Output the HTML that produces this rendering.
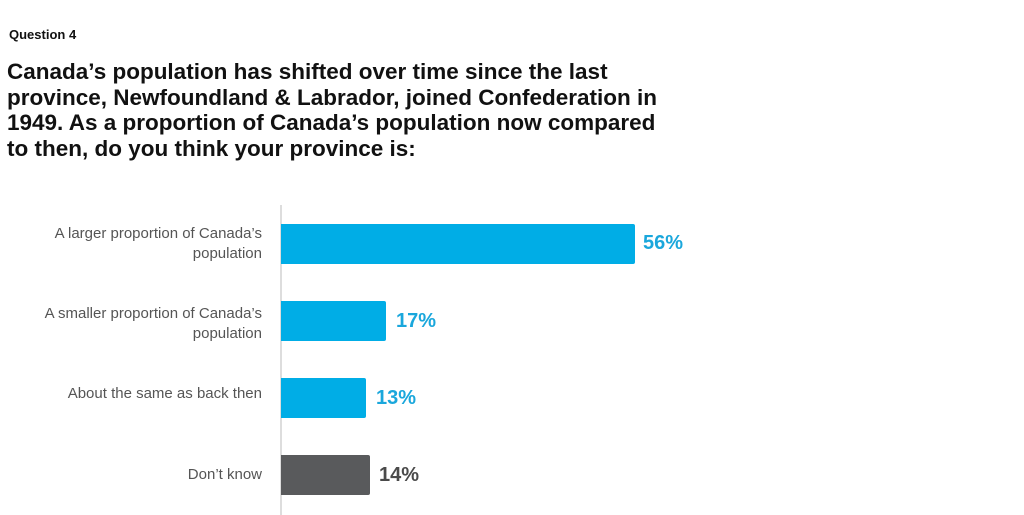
<!DOCTYPE html>
<html><head><meta charset="utf-8"><style>
body{margin:0;width:1024px;height:515px;background:#fff;position:relative;overflow:hidden;font-family:"Liberation Sans",sans-serif;}
.q{position:absolute;left:9px;top:27px;font-size:13px;font-weight:bold;color:#111;}
.t{position:absolute;left:7px;top:59px;font-size:22.5px;font-weight:bold;line-height:25.5px;color:#111;letter-spacing:0px;white-space:nowrap;}
.ax{position:absolute;left:280px;top:205px;width:2px;height:310px;background:#ddd;}
.b{position:absolute;left:281px;height:40px;border-radius:0 2px 2px 0;}
.l{position:absolute;right:762px;text-align:right;font-size:15px;color:#555;line-height:20px;white-space:nowrap;}
.v{position:absolute;font-size:20px;font-weight:bold;}
</style></head><body>
<div class="q">Question 4</div>
<div class="t">Canada’s population has shifted over time since the last<br>province, Newfoundland &amp; Labrador, joined Confederation in<br>1949. As a proportion of Canada’s population now compared<br>to then, do you think your province is:</div>
<div class="ax"></div>
<div class="b" style="top:224px;width:354px;background:#00ade6"></div>
<div class="b" style="top:301px;width:105px;background:#00ade6"></div>
<div class="b" style="top:378px;width:85px;background:#00ade6"></div>
<div class="b" style="top:455px;width:89px;background:#595a5c"></div>
<div class="l" style="top:224px">A larger proportion of Canada’s<br>population</div>
<div class="l" style="top:304px">A smaller proportion of Canada’s<br>population</div>
<div class="l" style="top:384px">About the same as back then</div>
<div class="l" style="top:465px">Don’t know</div>
<div class="v" style="left:643px;top:232px;color:#1aa7dc">56%</div>
<div class="v" style="left:396px;top:310px;color:#1aa7dc">17%</div>
<div class="v" style="left:376px;top:387px;color:#1aa7dc">13%</div>
<div class="v" style="left:379px;top:464px;color:#4a4a4a">14%</div>
</body></html>
